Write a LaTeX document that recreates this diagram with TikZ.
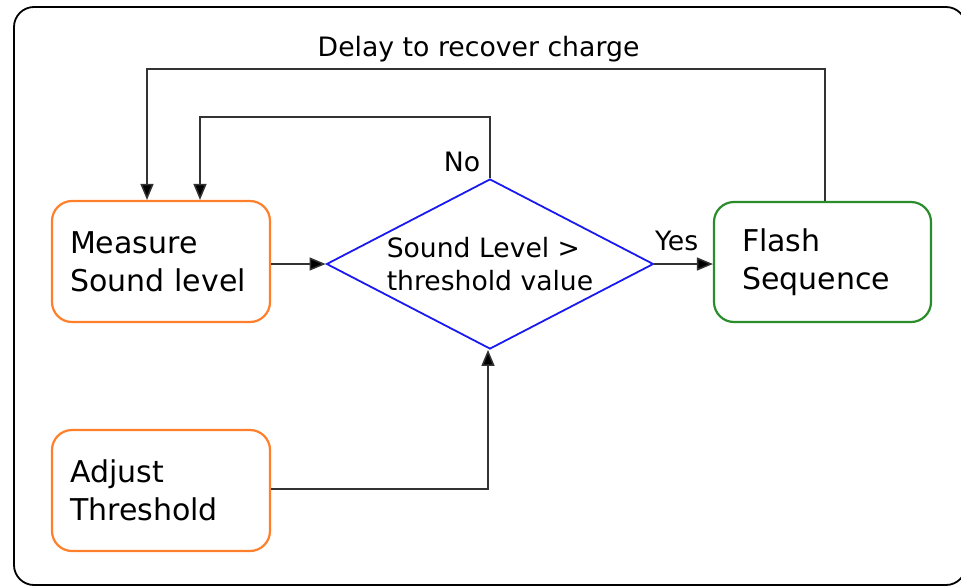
\documentclass[tikz,border=0pt]{standalone}
\usepackage{fontspec}
\setmainfont{DejaVu Sans}
\usepackage{xcolor}
\usetikzlibrary{shapes.geometric,arrows.meta}
\definecolor{stepor}{HTML}{FF7F2A}
\definecolor{stepgr}{HTML}{2A8C2A}
\definecolor{testbl}{HTML}{1A1AF0}
\definecolor{wire}{HTML}{333333}
\tikzset{
  frame/.style={draw=black, line width=1.8pt, rounded corners=20pt},
  stepbox/.style={draw=stepor, line width=2.2pt, rounded corners=20pt, fill=white,
    text width=182pt, inner xsep=18pt, inner ysep=0pt,
    minimum height=121pt, align=left,
    font=\fontsize{30}{38}\selectfont},
  test/.style={diamond, draw=testbl, line width=1.8pt, aspect=1.92, inner sep=0pt,
    minimum width=327pt, minimum height=170pt, align=left,
    font=\fontsize{26.6}{33}\selectfont},
  conn/.style={draw=wire, line width=1.5pt, -{Triangle[length=16pt,width=13pt,fill=black]}},
  lab/.style={text=black, font=\fontsize{26.7}{30}\selectfont},
}

\begin{document}
\begin{tikzpicture}[x=1pt, y=-1pt]
  \useasboundingbox (0,0) rectangle (961,587);
  \draw[frame] (14,7) rectangle (966,585);
  % steps and test
  \node[stepbox] (measure) at (161,261.5) {Measure\\Sound level};
  \node[stepbox] (adjust) at (161,490.5) {Adjust\\Threshold};
  \node[stepbox, draw=stepgr, text width=161pt, inner xsep=28pt, minimum height=120pt] (flash) at (822.5,262) {Flash\\Sequence};
  \node[test] (check) at (490,264) {Sound Level >\\threshold value};
  % connectors
  \draw[conn] (measure.east |- check.west) -- (check.west);
  \draw[conn] (check.east) -- node[lab, above, inner sep=12pt, xshift=-7pt] {Yes} (check.east -| flash.west);
  \draw[conn] (check.north) -- node[lab, left, pos=0.26, inner sep=9pt] {No} ++(0,-61) -| ([xshift=39pt]measure.north);
  \draw[conn] ([xshift=2.5pt]flash.north) -- ++(0,-132) -| node[lab, above, pos=0.2555, inner sep=6pt] {Delay to recover charge} ([xshift=-14pt]measure.north);
  \draw[conn] ([yshift=1.5pt]adjust.east) -| ([xshift=-2pt]check.south);
\end{tikzpicture}
\end{document}
